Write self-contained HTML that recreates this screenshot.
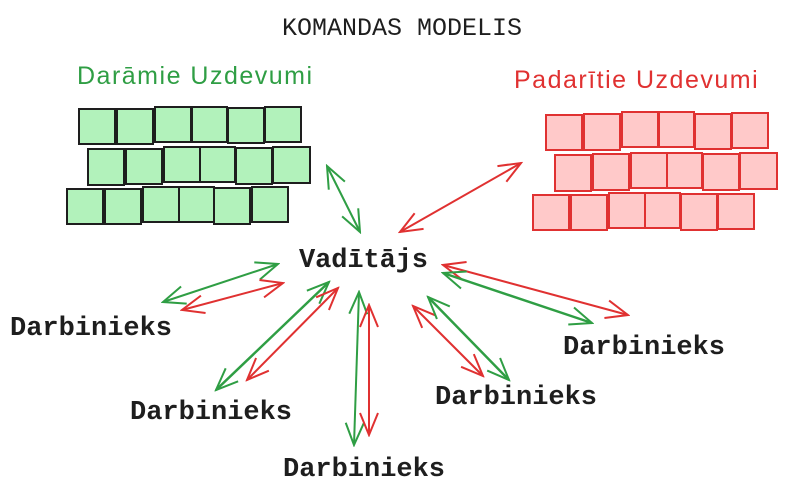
<!DOCTYPE html>
<html><head><meta charset="utf-8"><style>
body{margin:0;background:#fff;}
svg{display:block}
.t{font-family:"Liberation Mono",monospace;fill:#1e1e1e}
.h{font-family:"Liberation Sans",sans-serif;font-size:25px;letter-spacing:1.5px}
</style></head><body>
<svg width="788" height="493" viewBox="0 0 788 493" xmlns="http://www.w3.org/2000/svg">
<defs>
<marker id="g" viewBox="0 0 26 26" refX="24" refY="13" markerWidth="26" markerHeight="26" markerUnits="userSpaceOnUse" orient="auto-start-reverse"><path d="M2,4 L24,13 L2,22" fill="none" stroke="#2f9e44" stroke-width="2"/></marker>
<marker id="r" viewBox="0 0 26 26" refX="24" refY="13" markerWidth="26" markerHeight="26" markerUnits="userSpaceOnUse" orient="auto-start-reverse"><path d="M2,4 L24,13 L2,22" fill="none" stroke="#e03131" stroke-width="2"/></marker>
</defs>
<text class="t" x="402" y="35" text-anchor="middle" font-size="25">KOMANDAS MODELIS</text>
<text class="h" x="77" y="84" fill="#2f9e44">Darāmie Uzdevumi</text>
<text class="h" x="514" y="88" fill="#e03131">Padarītie Uzdevumi</text>
<g fill="#b2f2bb" stroke="#1e1e1e" stroke-width="2">
<rect x="79" y="109" width="36" height="35"/><rect x="117" y="109" width="36" height="35"/><rect x="155" y="107" width="36" height="35"/><rect x="192" y="107" width="35" height="35"/><rect x="228" y="108" width="36" height="35"/><rect x="265" y="107" width="36" height="35"/>
<rect x="88" y="149" width="36" height="36"/><rect x="126" y="149" width="36" height="35"/><rect x="164" y="147" width="36" height="35"/><rect x="200" y="147" width="35" height="35"/><rect x="236" y="148" width="36" height="36"/><rect x="273" y="147" width="37" height="36"/>
<rect x="67" y="189" width="36" height="35"/><rect x="105" y="189" width="36" height="35"/><rect x="143" y="187" width="36" height="35"/><rect x="179" y="187" width="35" height="35"/><rect x="214" y="188" width="36" height="36"/><rect x="252" y="187" width="36" height="35"/>
</g>
<g fill="#ffc9c9" stroke="#e03131" stroke-width="2">
<rect x="546" y="115" width="36" height="35"/><rect x="584" y="114" width="36" height="36"/><rect x="622" y="112" width="36" height="35"/><rect x="659" y="112" width="35" height="35"/><rect x="695" y="114" width="36" height="35"/><rect x="732" y="113" width="36" height="35"/>
<rect x="555" y="155" width="36" height="36"/><rect x="593" y="154" width="36" height="36"/><rect x="631" y="153" width="36" height="35"/><rect x="667" y="153" width="35" height="35"/><rect x="703" y="154" width="36" height="36"/><rect x="740" y="153" width="37" height="36"/>
<rect x="533" y="195" width="36" height="35"/><rect x="571" y="195" width="36" height="35"/><rect x="609" y="193" width="36" height="35"/><rect x="645" y="193" width="35" height="35"/><rect x="681" y="194" width="36" height="36"/><rect x="718" y="194" width="36" height="35"/>
</g>
<g fill="none" stroke-width="2">
<line x1="327" y1="166" x2="360" y2="232" stroke="#2f9e44" marker-start="url(#g)" marker-end="url(#g)"/>
<line x1="400" y1="232" x2="521" y2="163" stroke="#e03131" marker-start="url(#r)" marker-end="url(#r)"/>
<line x1="163" y1="302" x2="278" y2="264" stroke="#2f9e44" marker-start="url(#g)" marker-end="url(#g)"/>
<line x1="182" y1="310" x2="283" y2="283" stroke="#e03131" marker-start="url(#r)" marker-end="url(#r)"/>
<line x1="216" y1="390" x2="329" y2="282" stroke="#2f9e44" stroke-width="2.5" marker-start="url(#g)" marker-end="url(#g)"/>
<line x1="247" y1="380" x2="338" y2="288" stroke="#e03131" marker-start="url(#r)" marker-end="url(#r)"/>
<line x1="359" y1="292" x2="354" y2="445" stroke="#2f9e44" marker-start="url(#g)" marker-end="url(#g)"/>
<line x1="369" y1="305" x2="369" y2="435" stroke="#e03131" marker-start="url(#r)" marker-end="url(#r)"/>
<line x1="413" y1="306" x2="483" y2="376" stroke="#e03131" marker-start="url(#r)" marker-end="url(#r)"/>
<line x1="428" y1="297" x2="509" y2="380" stroke="#2f9e44" stroke-width="2.5" marker-start="url(#g)" marker-end="url(#g)"/>
<line x1="443" y1="265" x2="628" y2="315" stroke="#e03131" marker-start="url(#r)" marker-end="url(#r)"/>
<line x1="443" y1="273" x2="592" y2="323" stroke="#2f9e44" stroke-width="2.5" marker-start="url(#g)" marker-end="url(#g)"/>
</g>
<g class="t" font-size="27" font-weight="bold">
<text x="299" y="267" textLength="129">Vadītājs</text>
<text x="10" y="335" textLength="162">Darbinieks</text>
<text x="130" y="419" textLength="162">Darbinieks</text>
<text x="283" y="476" textLength="162">Darbinieks</text>
<text x="435" y="404" textLength="162">Darbinieks</text>
<text x="563" y="354" textLength="162">Darbinieks</text>
</g>
</svg>
</body></html>
